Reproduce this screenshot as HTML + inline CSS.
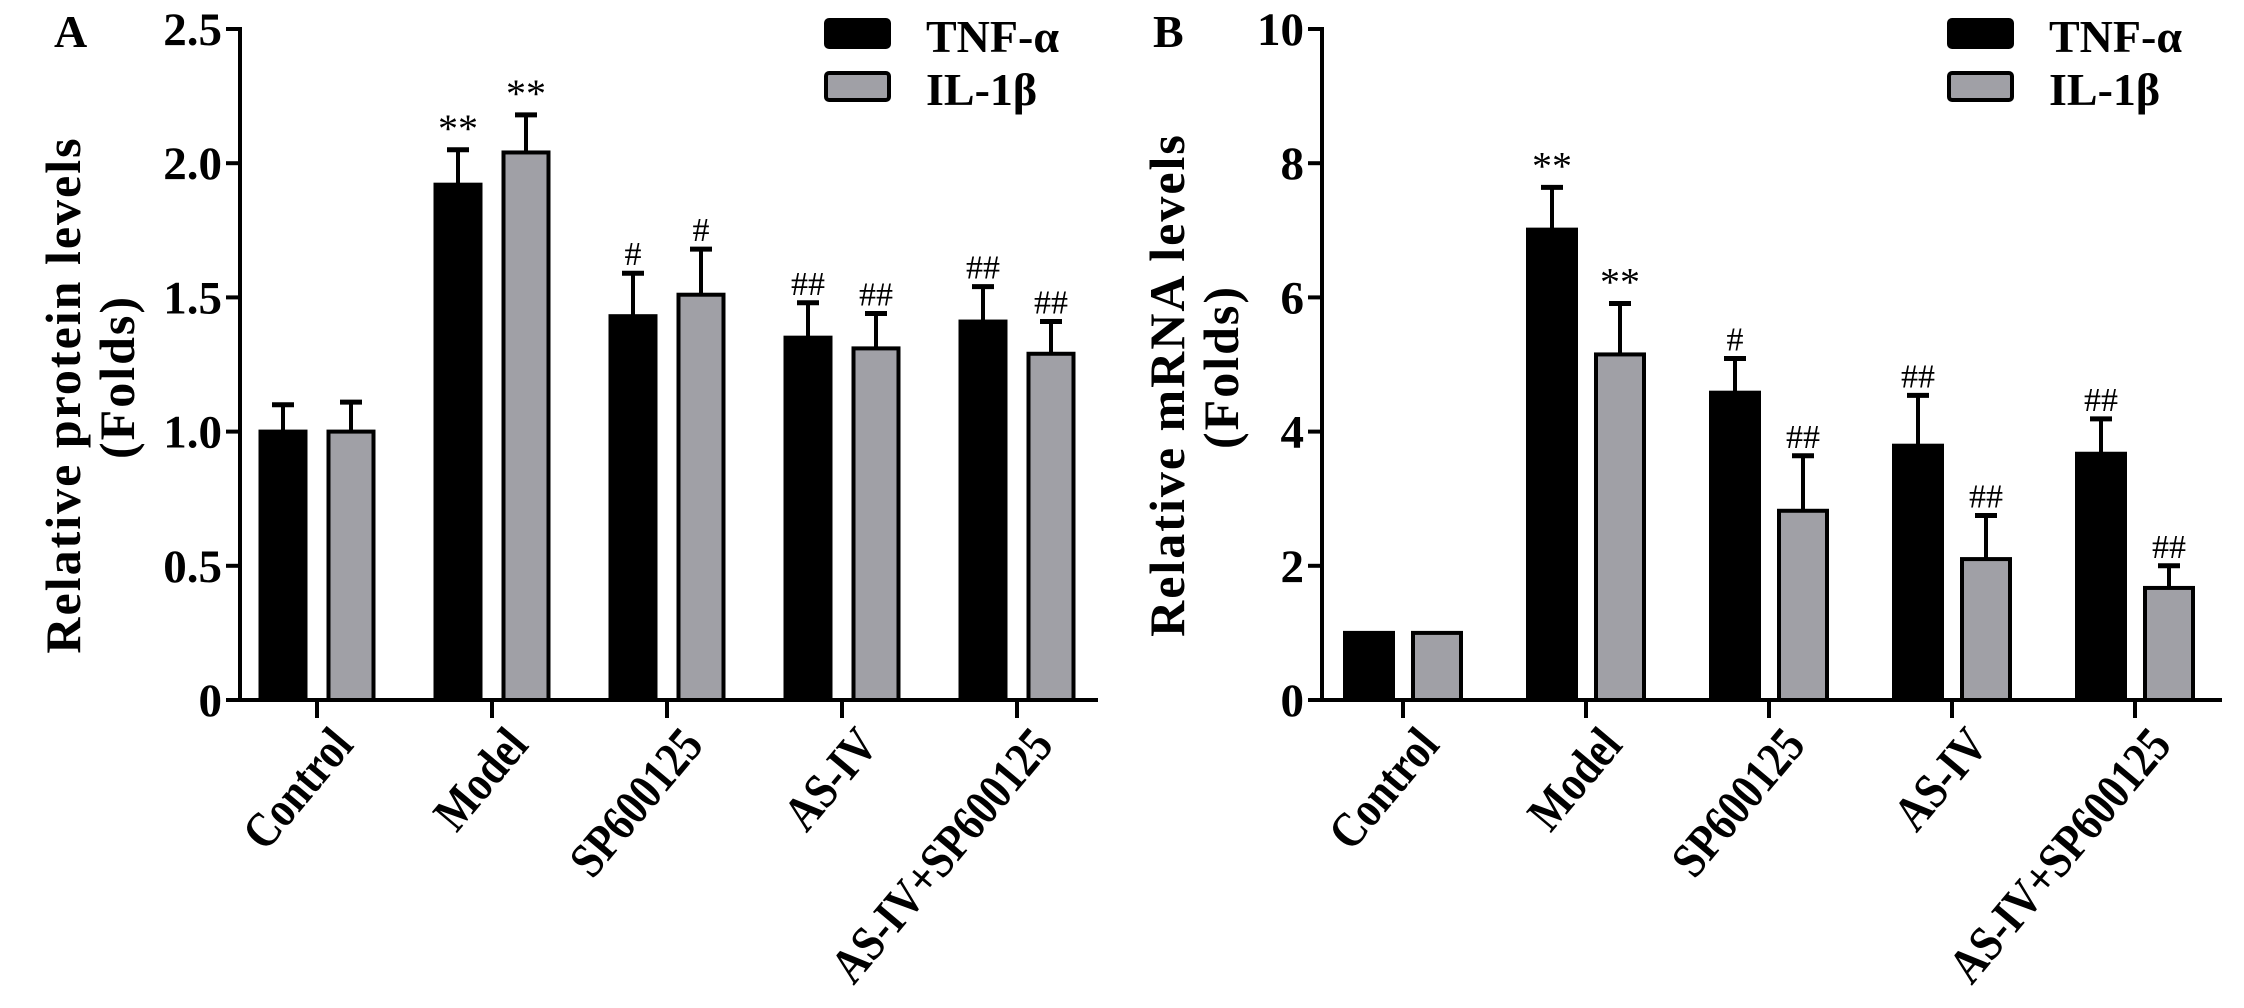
<!DOCTYPE html>
<html><head><meta charset="utf-8">
<style>
html,body{margin:0;padding:0;background:#fff;}
svg{display:block;font-family:"Liberation Serif",serif;font-weight:bold;}
</style></head>
<body>
<svg id="fig" width="2244" height="1008" viewBox="0 0 2244 1008" xmlns="http://www.w3.org/2000/svg"></svg>
<script>
const categories = ["Control","Model","SP600125","AS-IV","AS-IV+SP600125"];
const seriesNames = ["TNF-α","IL-1β"];
// Panel A: protein
const aTnf = [1.00, 1.92, 1.43, 1.35, 1.41];
const aTnfErr = [0.10, 0.13, 0.16, 0.13, 0.13];
const aIl = [1.00, 2.04, 1.51, 1.31, 1.29];
const aIlErr = [0.11, 0.14, 0.17, 0.13, 0.12];
const aTnfMark = ["", "**", "#", "##", "##"];
const aIlMark = ["", "**", "#", "##", "##"];
const aTicks = [0, 0.5, 1.0, 1.5, 2.0, 2.5];
const aTickLabels = ["0","0.5","1.0","1.5","2.0","2.5"];
// Panel B: mRNA
const bTnf = [1.00, 7.01, 4.58, 3.79, 3.67];
const bTnfErr = [0, 0.63, 0.51, 0.75, 0.52];
const bIl = [1.00, 5.15, 2.82, 2.10, 1.67];
const bIlErr = [0, 0.76, 0.82, 0.65, 0.33];
const bTnfMark = ["", "**", "#", "##", "##"];
const bIlMark = ["", "**", "##", "##", "##"];
const bTicks = [0, 2, 4, 6, 8, 10];
const bTickLabels = ["0","2","4","6","8","10"];

const svg = document.getElementById('fig');
const NS = "http://www.w3.org/2000/svg";
function mk(tag, attrs, parent){
  const e = document.createElementNS(NS, tag);
  for (const k in attrs) e.setAttribute(k, attrs[k]);
  (parent||svg).appendChild(e);
  return e;
}

function panel(cfg){
  const g = mk('g', {});
  
  
  const y = v => cfg.y0 - (v / cfg.max) * (cfg.y0 - cfg.yTop);
  const x = i => cfg.x0tick + i * cfg.step;
  const ya = mk('line', {x1:cfg.axX, y1:y(cfg.max)-2, x2:cfg.axX, y2:cfg.y0+2, stroke:'#000','stroke-width':4}, g);
  
  
  const xa = mk('line', {x1:cfg.axX-14, y1:cfg.y0, x2:cfg.axEnd, y2:cfg.y0, stroke:'#000','stroke-width':4}, g);
  
  
  cfg.ticks.forEach((t,i)=>{
    const ty = y(t);
    const tl = mk('line', {x1:cfg.axX-14, y1:ty, x2:cfg.axX, y2:ty, stroke:'#000','stroke-width':4}, g);
    
    
    const tx = mk('text', {x:cfg.axX-18, y:ty+16, 'text-anchor':'end', 'font-size':47}, g);
    tx.textContent = cfg.tickLabels[i];
    
    
  });
  categories.forEach((c,i)=>{
    const cx = x(i);
    const tk = mk('line', {x1:cx, y1:cfg.y0, x2:cx, y2:cfg.y0+18, stroke:'#000','stroke-width':4}, g);
    
    
    const lx = cx + 38, ly = cfg.y0 + 46;
    const lb = mk('text', {x:lx, y:ly, 'text-anchor':'end', 'font-size':50, transform:`rotate(-50 ${lx} ${ly})`}, g);
    lb.textContent = c;
    
    
    const L = lb.getComputedTextLength();
    if (L > 0) { lb.setAttribute('textLength', (L*0.84).toFixed(1)); lb.setAttribute('lengthAdjust','spacingAndGlyphs'); }
    const series = [[cfg.tnf, cfg.tnfErr, cfg.tnfMark, '#000', -cfg.off], [cfg.il, cfg.ilErr, cfg.ilMark, '#a0a0a6', cfg.off]];
    series.forEach((s, si)=>{
      const v = s[0][i], e = s[1][i];
      const bc = cx + s[4];
      const top = y(v);
      if (e > 0) {
        const et = y(v + e);
        const el = mk('line', {x1:bc, y1:et, x2:bc, y2:top, stroke:'#000','stroke-width':4}, g);
        
        
        const ec = mk('line', {x1:bc-11, y1:et, x2:bc+11, y2:et, stroke:'#000','stroke-width':5}, g);
        
        
      }
      const r = mk('rect', {x:bc-cfg.bw/2, y:top, width:cfg.bw, height:cfg.y0-top, fill:s[3], stroke:'#000','stroke-width':4}, g);
      
      
      if (s[2][i]) {
        const m = mk('text', {x:bc, y:y(v+e)-8, 'text-anchor':'middle', 'font-size':s[2][i]==='**'?40:34, 'font-weight':'normal'}, g);
        m.textContent = s[2][i];
        
        
      }
    });
  });
  const yl = mk('text', {x:cfg.ylX, y:cfg.ylY, 'text-anchor':'middle', 'font-size':50, transform:`rotate(-90 ${cfg.ylX} ${cfg.ylY})`, 'letter-spacing':2}, g);
  yl.textContent = cfg.ylabel;
  
  
  const yl2 = mk('text', {x:cfg.ylX+54, y:cfg.ylY-18, 'text-anchor':'middle', 'font-size':50, transform:`rotate(-90 ${cfg.ylX+54} ${cfg.ylY-18})`, 'letter-spacing':2}, g);
  yl2.textContent = "(Folds)";
  
  
  const pl = mk('text', {x:cfg.letterX, y:47, 'font-size':46}, g);
  pl.textContent = cfg.letter;
  
  
  [['#000',20],[ '#a0a0a6',73]].forEach((Lg,li)=>{
    const lr = mk('rect', {x:cfg.legX, y:Lg[1], width:63, height:27, rx:3, fill:Lg[0], stroke:'#000','stroke-width':4}, g);
    
    
    const lt = mk('text', {x:cfg.legX+100, y:Lg[1]+32, 'font-size':46}, g);
    lt.textContent = seriesNames[li];
    
    
  });
}

panel({name:'panel-a-protein', axX:240, axEnd:1098, y0:700, yTop:29, max:2.5, x0tick:317, step:175, off:34, bw:45,
  tnf:aTnf, tnfErr:aTnfErr, il:aIl, ilErr:aIlErr, tnfMark:aTnfMark, ilMark:aIlMark, ticks:aTicks, tickLabels:aTickLabels,
  ylabel:'Relative protein levels', ylX:80, ylY:395, letter:'A', letterX:54, legX:826});
panel({name:'panel-b-mrna', axX:1322, axEnd:2222, y0:700, yTop:29, max:10, x0tick:1403, step:183, off:34, bw:48,
  tnf:bTnf, tnfErr:bTnfErr, il:bIl, ilErr:bIlErr, tnfMark:bTnfMark, ilMark:bIlMark, ticks:bTicks, tickLabels:bTickLabels,
  ylabel:'Relative mRNA levels', ylX:1184, ylY:385, letter:'B', letterX:1153, legX:1949});
</script>
</body></html>
